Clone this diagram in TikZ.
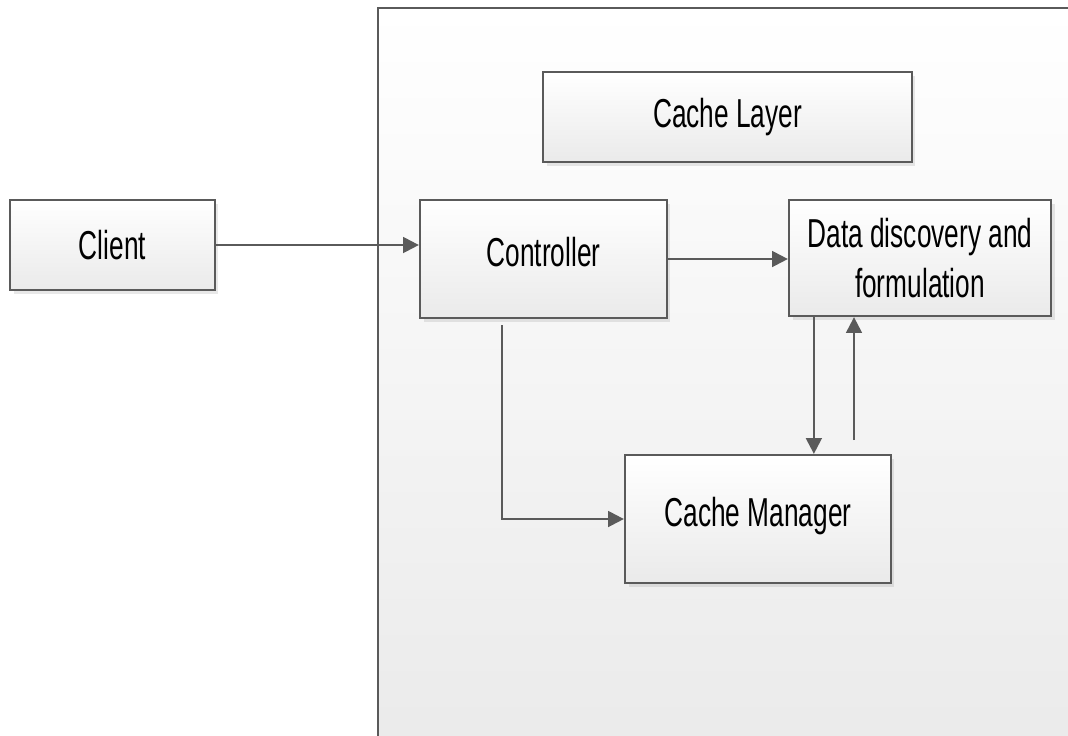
\documentclass[tikz,border=0pt]{standalone}
\usepackage{fontspec}
\setmainfont[FakeStretch=0.65]{Liberation Sans}
\usepackage{tikz}
\usetikzlibrary{arrows.meta, shadows}
\definecolor{edge}{RGB}{90,90,90}
\definecolor{boxtop}{RGB}{255,255,255}
\definecolor{boxbot}{RGB}{234,234,234}

\tikzset{
  blk/.style={draw=edge, line width=1.3pt, top color=boxtop, bottom color=boxbot,
    drop shadow={opacity=0.18, shadow xshift=2pt, shadow yshift=-2pt},
    align=center, font=\fontsize{23}{28}\selectfont},
  link/.style={draw=edge, line width=1.3pt, -{Triangle[length=9pt,width=9pt]}}
}

\begin{document}
\begin{tikzpicture}[x=0.02cm, y=-0.02cm]
\useasboundingbox (0,0) rectangle (1068,735);
\clip (0,0) rectangle (1068,735);
\fill[white] (0,0) rectangle (1068,735);
\draw[edge, line width=1.3pt, top color=white, bottom color=boxbot] (378,8) rectangle (1090,760);
\node[blk, minimum width=4.1cm, minimum height=1.8cm] (client) at (112.5,245) {Client};
\node[blk, minimum width=7.38cm, minimum height=1.8cm] (layer) at (727.5,117) {Cache Layer};
\node[blk, minimum width=4.94cm, minimum height=2.36cm, text depth=0.3cm] (ctrl) at (543.5,259) {Controller};
\node[blk, minimum width=5.24cm, minimum height=2.32cm] (data) at (920,258) {Data discovery and\\formulation};
\node[blk, minimum width=5.32cm, minimum height=2.56cm, text depth=0.3cm] (mgr) at (758,519) {Cache Manager};
\coordinate (dn) at (502,325);
\coordinate (up) at (854,440);
\draw[link] (client.east) -- (client.east -| ctrl.west);
\draw[link] (ctrl.east) -- (ctrl.east -| data.west);
\draw[link] ([xshift=0.52cm]data.south west) -- ([xshift=0.52cm]data.south west |- mgr.north);
\draw[link] (up) -- (up |- data.south);
\draw[link] (dn) |- (mgr.west);
\end{tikzpicture}
\end{document}
